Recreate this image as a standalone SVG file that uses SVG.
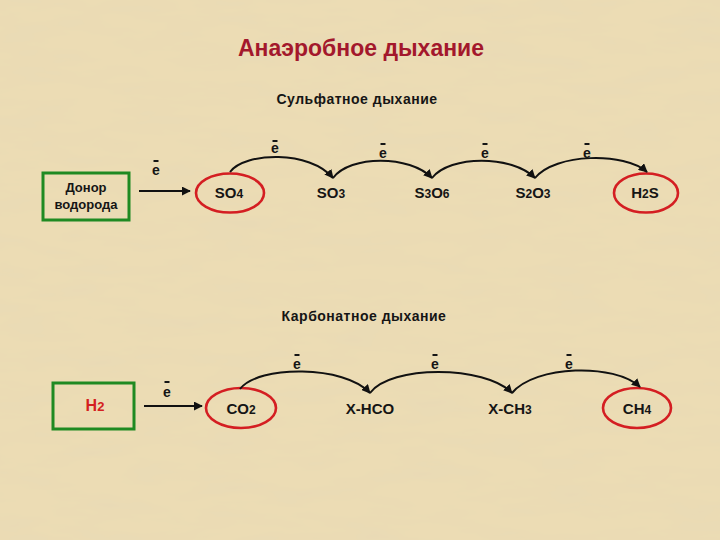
<svg xmlns="http://www.w3.org/2000/svg" width="720" height="540" viewBox="0 0 720 540">
<defs>
<filter id="paper" x="0" y="0" width="100%" height="100%">
<feTurbulence type="fractalNoise" baseFrequency="0.015 0.06" numOctaves="3" seed="7"/>
<feColorMatrix type="matrix" values="0 0 0 0 0.78  0 0 0 0 0.68  0 0 0 0 0.47  0.7 0 0 0 -0.25"/>
</filter>
<marker id="ah" viewBox="0 0 10 10" refX="9" refY="5" markerWidth="9" markerHeight="9" markerUnits="userSpaceOnUse" orient="auto">
<path d="M0,0 L10,5 L0,10 Z" fill="#111"/>
</marker>
<style>
.t{font-family:"Liberation Sans",Arial,sans-serif;fill:#151515;text-anchor:middle}
.title{font-size:23px;font-weight:bold;fill:#a3182c}
.sub{font-size:14px;font-weight:bold;letter-spacing:0.5px}
.chem{font-size:15px;font-weight:bold}
.chem tspan{font-size:12px}
.don{font-size:13px;font-weight:bold}
.el{font-size:14px;font-weight:bold}
.bar{stroke:#151515;stroke-width:2}
.box{fill:none;stroke:#1f8a22;stroke-width:3}
.ring{fill:none;stroke:#d41e22;stroke-width:2.6}
.arc{fill:none;stroke:#111;stroke-width:2;marker-end:url(#ah)}
</style>
</defs>
<rect width="720" height="540" fill="#ecdcb4"/>
<rect width="720" height="540" filter="url(#paper)"/>

<text class="t title" x="361" y="56">Анаэробное дыхание</text>
<text class="t sub" x="357" y="104">Сульфатное дыхание</text>
<text class="t sub" x="364" y="321">Карбонатное дыхание</text>

<g id="donor">
<rect class="box" x="43" y="173" width="86" height="47"/>
<text class="t don" x="86" y="192">Донор</text>
<text class="t don" x="86" y="209">водорода</text>
</g>
<g id="so4">
<ellipse class="ring" cx="230" cy="193" rx="34" ry="19.5"/>
<text class="t chem" x="229" y="198">SO<tspan>4</tspan></text>
</g>
<g id="so3">
<text class="t chem" x="331" y="198">SO<tspan>3</tspan></text>
</g>
<g id="s3o6">
<text class="t chem" x="432" y="198">S<tspan>3</tspan>O<tspan>6</tspan></text>
</g>
<g id="s2o3">
<text class="t chem" x="533" y="198">S<tspan>2</tspan>O<tspan>3</tspan></text>
</g>
<g id="h2s">
<ellipse class="ring" cx="646" cy="193" rx="32" ry="19.5"/>
<text class="t chem" x="645" y="198">H<tspan>2</tspan>S</text>
</g>

<g id="h2">
<rect class="box" x="53" y="383" width="81" height="46"/>
<text class="t" x="95" y="411" style="font-size:16px;font-weight:bold;fill:#d42020">H<tspan style="font-size:13px">2</tspan></text>
</g>
<g id="co2">
<ellipse class="ring" cx="241" cy="408" rx="35" ry="20"/>
<text class="t chem" x="241" y="414">CO<tspan>2</tspan></text>
</g>
<g id="xhco">
<text class="t chem" x="370" y="414">X-HCO</text>
</g>
<g id="xch3">
<text class="t chem" x="510" y="414">X-CH<tspan>3</tspan></text>
</g>
<g id="ch4">
<ellipse class="ring" cx="637" cy="408" rx="34" ry="20"/>
<text class="t chem" x="637" y="414">CH<tspan>4</tspan></text>
</g>

<g id="connectors">
<path class="arc" d="M139,191 L190,191"/>
<path class="arc" d="M230,172 C245,152 310,150 333,178"/>
<path class="arc" d="M333,178 C350,155 410,155 432,178"/>
<path class="arc" d="M432,178 C450,155 512,155 535,178"/>
<path class="arc" d="M535,178 C555,153 625,152 647,172"/>
<path class="arc" d="M144,406 L202,406"/>
<path class="arc" d="M240,389 C258,365 345,365 370,393"/>
<path class="arc" d="M370,393 C390,365 485,365 512,393"/>
<path class="arc" d="M512,393 C535,365 615,363 640,387"/>
</g>

<g id="electron-labels">
<text class="t el" x="156" y="175">e</text><line class="bar" x1="153.5" y1="161" x2="158.5" y2="161"/>
<text class="t el" x="275" y="153">e</text><line class="bar" x1="272.5" y1="141" x2="277.5" y2="141"/>
<text class="t el" x="383" y="158">e</text><line class="bar" x1="380.5" y1="144" x2="385.5" y2="144"/>
<text class="t el" x="485" y="158">e</text><line class="bar" x1="482.5" y1="144" x2="487.5" y2="144"/>
<text class="t el" x="587" y="158">e</text><line class="bar" x1="584.5" y1="144" x2="589.5" y2="144"/>
<text class="t el" x="167" y="397">e</text><line class="bar" x1="164.5" y1="382" x2="169.5" y2="382"/>
<text class="t el" x="297" y="369">e</text><line class="bar" x1="294.5" y1="355" x2="299.5" y2="355"/>
<text class="t el" x="435" y="369">e</text><line class="bar" x1="432.5" y1="355" x2="437.5" y2="355"/>
<text class="t el" x="569" y="369">e</text><line class="bar" x1="566.5" y1="355" x2="571.5" y2="355"/>
</g>
</svg>
